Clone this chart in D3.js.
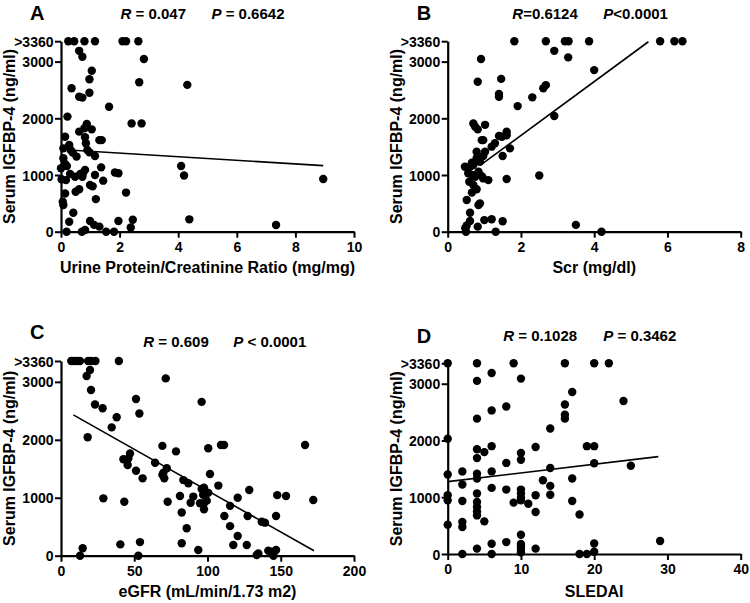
<!DOCTYPE html>
<html><head><meta charset="utf-8">
<script src="https://cdn.jsdelivr.net/npm/d3@7"></script>
<style>
body{margin:0;background:#fff}
svg text{font-family:Arial,"Liberation Sans",sans-serif;font-weight:bold;fill:#000}
</style>
</head><body>
<svg id="chart" width="750" height="603"></svg>
<script>
// ---------- DATA ----------
const yTickValues = [0, 1000, 2000, 3000, 3360];
const yTickLabels = ["0", "1000", "2000", "3000", ">3360"];
const yLabel = "Serum IGFBP-4 (ng/ml)";

const xTicksA = [0, 2, 4, 6, 8, 10];
const xTicksB = [0, 2, 4, 6, 8];
const xTicksC = [0, 50, 100, 150, 200];
const xTicksD = [0, 10, 20, 30, 40];

const xLabels = ["Urine Protein/Creatinine Ratio (mg/mg)", "Scr (mg/dl)", "eGFR (mL/min/1.73 m2)", "SLEDAI"];
const panelLetters = ["A", "B", "C", "D"];
const statsR = [" = 0.047", "=0.6124", " = 0.609", " = 0.1028"];
const statsP = [" = 0.6642", "<0.0001", " < 0.0001", " = 0.3462"];

const pointsA = [
 [0.25,3360],[0.45,3360],[0.8,3360],[1.16,3360],[2.1,3360],[2.22,3360],[2.64,3360],
 [0.62,3190],[0.73,3085],[2.83,3045],[1.05,2840],[0.97,2690],[2.67,2635],[4.31,2590],[0.36,2530],
 [0.97,2450],[0.62,2380],[0.73,2365],[1.64,2205],[0.22,2030],[2.41,1910],[2.75,1910],[0.88,1900],
 [0.8,1825],[1.05,1805],[0.62,1765],[0.14,1675],[0.82,1665],[1.31,1615],[1.39,1615],[0.85,1560],
 [0.28,1530],[0.08,1470],[0.33,1440],[0.4,1395],[0.9,1440],[0.97,1400],[0.08,1295],[0.53,1325],
 [1.16,1335],[0.14,1195],[0.2,1160],[0.0,1120],[1.37,1135],[4.1,1160],[0.82,1090],[0.76,1040],
 [0.31,1020],[0.48,970],[1.16,1000],[1.84,1045],[1.96,1030],[4.2,990],[0.66,1020],[0.73,970],
 [0.02,925],[0.17,910],[1.44,900],[8.95,930],[0.99,825],[1.08,800],[0.14,675],[0.5,705],[0.62,750],
 [2.22,690],[1.19,575],[0.06,530],[0.08,470],[0.42,335],[0.28,175],[0.99,190],[1.13,120],[1.31,90],
 [1.96,190],[2.45,210],[2.38,75],[4.38,218],[7.34,118],[0.19,0],[0.71,0],[0.82,30],[1.54,0],[1.81,0]
];
const pointsB = [
 [1.82,3360],[2.68,3360],[3.2,3360],[3.3,3360],[3.86,3360],[5.8,3360],[6.19,3360],[6.41,3360],
 [2.91,3190],[3.29,3075],[0.91,3045],[4.0,2850],[0.82,2645],[1.46,2695],[1.4,2430],[1.4,2380],
 [2.61,2530],[2.68,2585],[2.31,2370],[1.91,2215],[2.91,2040],[0.7,1910],[0.75,1850],[0.82,1805],
 [1.02,1885],[1.4,1690],[1.61,1765],[0.97,1615],[0.93,1615],[1.61,1700],[1.48,1675],[1.29,1560],
 [1.2,1500],[1.7,1470],[0.79,1410],[1.02,1410],[0.97,1335],[1.5,1335],[0.79,1295],[0.66,1215],
 [0.88,1235],[0.47,1145],[0.61,1145],[0.7,1175],[0.84,1060],[0.56,1030],[0.66,1000],[0.75,970],
 [0.93,980],[0.97,940],[1.11,910],[1.61,930],[2.5,990],[0.59,880],[0.7,825],[0.79,750],[0.66,690],
 [0.52,560],[0.84,470],[0.88,500],[0.61,335],[1.0,205],[1.2,220],[1.5,185],[0.61,190],[0.52,110],
 [0.48,60],[0.5,0],[0.82,90],[1.31,0],[3.5,120],[4.2,0]
];
const pointsC = [
 [7,3360],[9,3360],[11,3360],[13,3360],[18.5,3360],[20.5,3360],[23.5,3360],[39.5,3360],
 [19.8,3205],[17.5,3100],[71.5,3060],[20.5,2860],[51.2,2705],[96,2655],[23.2,2610],[28.4,2545],
 [53.5,2455],[38,2390],[34.6,2215],[18.2,2045],[69.2,1895],[78.5,1800],[100.5,1855],[109.2,1910],
 [111.3,1910],[166.6,1910],[47.1,1765],[46,1680],[42.6,1665],[45.5,1565],[64.2,1605],[72.2,1510],
 [69.9,1430],[69.2,1395],[51.2,1465],[55.7,1335],[70.5,1335],[83.5,1305],[86.9,1250],[101.7,1410],
 [107.4,1210],[97.6,1175],[96,1150],[98.9,1100],[97,1050],[100.5,1085],[94.9,905],[97.6,905],
 [99.5,950],[97.6,800],[90.3,1020],[88.5,915],[128.5,1135],[120.6,1000],[115.4,860],[153.6,1030],
 [147.6,1045],[172.2,960],[111.5,685],[127.4,685],[137,585],[139.2,570],[146.8,685],[115.4,510],
 [120.6,340],[117.6,185],[126.8,185],[93.7,98],[134.7,40],[133.6,12],[141.5,85],[143.8,70],
 [146.8,98],[145,0],[28.9,990],[43.2,930],[72.8,930],[81.2,1030],[82.4,745],[85.8,475],[82.4,214],
 [40.5,195],[53.9,235],[52.8,0],[14.8,128],[13,0]
];
const pointsD = [
 [0,3360],[4,3360],[9,3360],[16,3360],[20,3360],[22,3360],
 [6,3190],[4,3050],[10,3090],[17,2855],[16,2635],[16,2455],[16,2385],[8,2600],[6,2530],[4,2385],
 [14,2210],[24,2695],[0,2030],[4,1845],[4,1690],[5,1795],[6,1900],[10,1780],[10,1660],[12,1885],
 [19,1900],[20,1900],[20,1600],[25,1555],[8,1605],[14,1515],[0,1400],[2,1455],[4,1415],[4,1330],
 [6,1455],[13,1300],[17,1330],[2,1225],[6,1165],[8,1135],[10,1135],[10,1065],[10,990],[10,945],
 [12,1035],[14,1200],[14,1045],[0,1035],[0,945],[2,935],[4,1065],[4,915],[4,830],[4,750],[4,680],
 [5,575],[9,905],[11,885],[12,740],[17,935],[18,695],[0,515],[2,565],[2,475],[10,340],[6,180],
 [8,210],[10,175],[10,135],[10,90],[10,30],[4,95],[12,95],[2,0],[6,0],[18,0],[19,0],[20,185],
 [20,40],[29,230]
];

const fitA = [[0, 1450], [8.95, 1165]];
const fitB = [[0.95, 1200], [5.48, 3350]];
const fitC = [[8.4, 2430], [172.7, 85]];
const fitD = [[0, 1275], [28.75, 1715]];

// ---------- LAYOUT ----------
const panels = [
 {pts: pointsA, fit: fitA, xt: xTicksA, xd: [0,10], x0: 61, x1: 354, yb: 231.7, yt: 41.2,
  letter: [30, 19.5], rx: 120.5, px: 211.5, sy: 18.5, ylx: 15, xly: 272.5},
 {pts: pointsB, fit: fitB, xt: xTicksB, xd: [0,8], x0: 447.7, x1: 740.7, yb: 231.7, yt: 41.2,
  letter: [416.7, 19.5], rx: 512.3, px: 603.3, sy: 18.5, ylx: 401.5, xly: 272.5},
 {pts: pointsC, fit: fitC, xt: xTicksC, xd: [0,200], x0: 61, x1: 354, yb: 555.7, yt: 361,
  letter: [30, 339.3], rx: 143.3, px: 233.3, sy: 346.5, ylx: 15, xly: 596.5},
 {pts: pointsD, fit: fitD, xt: xTicksD, xd: [0,40], x0: 447.7, x1: 740.7, yb: 554, yt: 363.3,
  letter: [416.7, 342.5], rx: 503.3, px: 603.3, sy: 340.7, ylx: 401.5, xly: 596.5}
];

const svg = d3.select("#chart");

panels.forEach((p, i) => {
  const x = d3.scaleLinear().domain(p.xd).range([p.x0, p.x1]);
  const y = d3.scaleLinear().domain([0, 3360]).range([p.yb, p.yt]);
  const g = svg.append("g");

  const ya = g.append("g").attr("transform", `translate(${p.x0},0)`)
    .call(d3.axisLeft(y).tickValues(yTickValues).tickFormat((d, k) => yTickLabels[k])
      .tickSize(6).tickSizeOuter(0).tickPadding(1.5));
  const xa = g.append("g").attr("transform", `translate(0,${p.yb})`)
    .call(d3.axisBottom(x).tickValues(p.xt).tickFormat(d3.format("d"))
      .tickSize(6).tickSizeOuter(0).tickPadding(4));
  [ya, xa].forEach(a => {
    a.select(".domain").attr("stroke", "#000").attr("stroke-width", 2.2);
    a.selectAll(".tick line").attr("stroke", "#000").attr("stroke-width", 2);
    a.selectAll(".tick text").attr("font-size", 14).attr("font-family", null).attr("fill", "#000");
  });
  ya.selectAll(".tick text").attr("dy", "0.36em");

  g.append("path").datum(p.fit)
    .attr("d", d3.line().x(d => x(d[0])).y(d => y(d[1])))
    .attr("stroke", "#000").attr("stroke-width", 1.6).attr("fill", "none");

  g.append("g").selectAll("circle").data(p.pts).join("circle")
    .attr("cx", d => x(d[0])).attr("cy", d => y(d[1])).attr("r", 4.2).attr("fill", "#000");

  g.append("text").attr("x", p.letter[0]).attr("y", p.letter[1]).attr("font-size", 20)
    .text(panelLetters[i]);

  const tr = g.append("text").attr("x", p.rx).attr("y", p.sy).attr("font-size", 15).attr("xml:space", "preserve");
  tr.append("tspan").attr("font-style", "italic").text("R");
  tr.append("tspan").text(statsR[i]);
  const tp = g.append("text").attr("x", p.px).attr("y", p.sy).attr("font-size", 15).attr("xml:space", "preserve");
  tp.append("tspan").attr("font-style", "italic").text("P");
  tp.append("tspan").text(statsP[i]);

  g.append("text").attr("transform", `translate(${p.ylx},${(p.yb + p.yt) / 2}) rotate(-90)`)
    .attr("text-anchor", "middle").attr("font-size", 16).text(yLabel);
  g.append("text").attr("x", (p.x0 + p.x1) / 2).attr("y", p.xly)
    .attr("text-anchor", "middle").attr("font-size", 16).text(xLabels[i]);
});
</script>
</body></html>
